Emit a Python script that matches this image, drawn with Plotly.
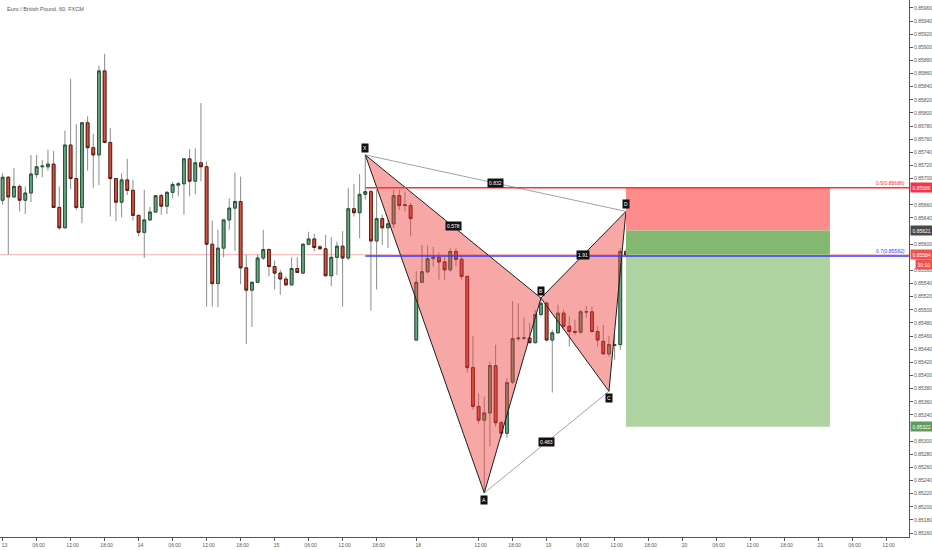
import plotly.graph_objects as go

title = "Euro / British Pound, 60, FXCM"

# EURGBP 1h candles, bar index 0 = 13th 00:00
opens = [0.85667, 0.85702, 0.85672, 0.85688, 0.85667, 0.85678, 0.85706, 0.85718, 0.85718, 0.85722,
         0.85656, 0.85625, 0.85751, 0.85700, 0.85656, 0.85785, 0.85747, 0.85736, 0.85864, 0.85755,
         0.85700, 0.85664, 0.85698, 0.85682, 0.85644, 0.85618, 0.85637, 0.85649, 0.85674, 0.85658,
         0.85679, 0.85690, 0.85692, 0.85730, 0.85696, 0.85724, 0.85718, 0.85600, 0.85540, 0.85594,
         0.85637, 0.85655, 0.85665, 0.85564, 0.85530, 0.85542, 0.85579, 0.85592, 0.85566, 0.85556,
         0.85547, 0.85538, 0.85563, 0.85556, 0.85600, 0.85608, 0.85596, 0.85593, 0.85552, 0.85580,
         0.85597, 0.85579, 0.85654, 0.85648, 0.85676, 0.85680, 0.85605, 0.85639, 0.85625, 0.85631,
         0.85674, 0.85660, 0.85659, 0.85454, 0.85542, 0.85558, 0.85578, 0.85580, 0.85573, 0.85561,
         0.85589, 0.85577, 0.85551, 0.85412, 0.85353, 0.85332, 0.85343, 0.85415, 0.85328, 0.85312,
         0.85390, 0.85456, 0.85457, 0.85457, 0.85450, 0.85493, 0.85510, 0.85454, 0.85465, 0.85495,
         0.85475, 0.85467, 0.85466, 0.85497, 0.85497, 0.85467, 0.85452, 0.85433, 0.85446, 0.85447,
         0.85589]
highs = [0.85708, 0.85704, 0.85716, 0.85691, 0.85688, 0.85736, 0.85736, 0.85728, 0.85744, 0.85742,
         0.85688, 0.85773, 0.85852, 0.85783, 0.85786, 0.85795, 0.85768, 0.85872, 0.85890, 0.85777,
         0.85700, 0.85708, 0.85730, 0.85698, 0.85644, 0.85683, 0.85657, 0.85675, 0.85677, 0.85681,
         0.85695, 0.85695, 0.85731, 0.85745, 0.85746, 0.85815, 0.85726, 0.85636, 0.85622, 0.85638,
         0.85670, 0.85709, 0.85703, 0.85584, 0.85543, 0.85585, 0.85622, 0.85593, 0.85575, 0.85561,
         0.85551, 0.85580, 0.85580, 0.85601, 0.85619, 0.85616, 0.85599, 0.85614, 0.85611, 0.85604,
         0.85620, 0.85686, 0.85692, 0.85707, 0.85736, 0.85683, 0.85683, 0.85645, 0.85637, 0.85683,
         0.85683, 0.85680, 0.85663, 0.85559, 0.85599, 0.85598, 0.85596, 0.85587, 0.85581, 0.85594,
         0.85594, 0.85581, 0.85552, 0.85460, 0.85373, 0.85368, 0.85421, 0.85447, 0.85331, 0.85396,
         0.85513, 0.85510, 0.85488, 0.85480, 0.85500, 0.85518, 0.85513, 0.85470, 0.85508, 0.85500,
         0.85490, 0.85485, 0.85500, 0.85506, 0.85505, 0.85475, 0.85477, 0.85460, 0.85465, 0.85594,
         0.85592]
lows = [0.85660, 0.85584, 0.85671, 0.85650, 0.85646, 0.85664, 0.85701, 0.85702, 0.85712, 0.85655,
        0.85622, 0.85624, 0.85684, 0.85652, 0.85632, 0.85712, 0.85686, 0.85690, 0.85754, 0.85642,
        0.85635, 0.85641, 0.85675, 0.85636, 0.85612, 0.85579, 0.85636, 0.85648, 0.85645, 0.85646,
        0.85670, 0.85673, 0.85645, 0.85673, 0.85676, 0.85696, 0.85505, 0.85505, 0.85504, 0.85580,
        0.85622, 0.85590, 0.85539, 0.85448, 0.85474, 0.85541, 0.85576, 0.85551, 0.85531, 0.85523,
        0.85537, 0.85537, 0.85556, 0.85555, 0.85600, 0.85589, 0.85592, 0.85551, 0.85536, 0.85553,
        0.85505, 0.85576, 0.85642, 0.85609, 0.85668, 0.85499, 0.85531, 0.85599, 0.85594, 0.85625,
        0.85652, 0.85650, 0.85612, 0.85453, 0.85541, 0.85556, 0.85566, 0.85546, 0.85546, 0.85558,
        0.85566, 0.85546, 0.85404, 0.85348, 0.85327, 0.85221, 0.85292, 0.85322, 0.85305, 0.85305,
        0.85387, 0.85452, 0.85454, 0.85449, 0.85449, 0.85490, 0.85452, 0.85374, 0.85464, 0.85472,
        0.85444, 0.85462, 0.85464, 0.85488, 0.85465, 0.85444, 0.85432, 0.85429, 0.85424, 0.85439,
        0.85580]
closes = [0.85702, 0.85672, 0.85688, 0.85667, 0.85678, 0.85707, 0.85718, 0.85719, 0.85722, 0.85656,
          0.85625, 0.85751, 0.85700, 0.85656, 0.85785, 0.85747, 0.85736, 0.85864, 0.85755, 0.85700,
          0.85664, 0.85698, 0.85682, 0.85644, 0.85618, 0.85637, 0.85649, 0.85674, 0.85658, 0.85679,
          0.85691, 0.85692, 0.85730, 0.85696, 0.85724, 0.85718, 0.85600, 0.85540, 0.85594, 0.85637,
          0.85655, 0.85665, 0.85564, 0.85530, 0.85542, 0.85579, 0.85592, 0.85566, 0.85556, 0.85547,
          0.85538, 0.85563, 0.85557, 0.85600, 0.85608, 0.85595, 0.85593, 0.85552, 0.85580, 0.85597,
          0.85579, 0.85654, 0.85648, 0.85676, 0.85680, 0.85605, 0.85639, 0.85625, 0.85631, 0.85674,
          0.85659, 0.85659, 0.85639, 0.85542, 0.85558, 0.85578, 0.85580, 0.85573, 0.85561, 0.85589,
          0.85577, 0.85551, 0.85412, 0.85353, 0.85332, 0.85343, 0.85415, 0.85328, 0.85312, 0.85389,
          0.85456, 0.85457, 0.85457, 0.85450, 0.85493, 0.85510, 0.85454, 0.85465, 0.85495, 0.85475,
          0.85467, 0.85466, 0.85497, 0.85497, 0.85467, 0.85454, 0.85433, 0.85447, 0.85447, 0.85589,
          0.85584]
bars = list(range(len(opens)))

# time axis labels (weekend gap between 15th and 18th)
tick_bars = [0, 6, 12, 18, 24, 30, 36, 42, 48, 54, 60, 66, 73, 84, 90, 96,
             102, 108, 114, 120, 126, 132, 138, 144, 150, 156]
tick_labels = ["13", "06:00", "12:00", "18:00", "14", "06:00", "12:00", "18:00",
               "15", "06:00", "12:00", "18:00", "18", "12:00", "18:00", "19",
               "06:00", "12:00", "18:00", "20", "06:00", "12:00", "18:00", "21",
               "06:00", "12:00"]

# XABCD pattern
point_names = ["X", "A", "B", "C", "D"]
point_bars = [64, 85, 95, 107, 110]
point_prices = [0.85736, 0.85221, 0.85518, 0.85376, 0.85650]
ratio_texts = ["0.578", "0.483", "1.91", "0.832"]   # XB, AC, BD, XD

# short position + levels
stop_price = 0.85686
entry_price = 0.85621
last_price = 0.85584
target_price = 0.85322
position_bars = [110, 146]
level_names = ["0.5", "0.7"]
level_prices = [0.85686, 0.85582]
level_colors = ["#ff3030", "#2f3cff"]

x_range = [-0.46, 159.95]
y_range = [0.85154, 0.85972]
font_family = "Liberation Sans, Arial, sans-serif"
small = 5

# price scale ticks, leaving out the ones hidden behind the price tags
tags = [stop_price, entry_price, last_price, target_price]
price_ticks = [round(0.8516 + 0.0002 * k, 5) for k in range(41)]
price_ticks = [p for p in price_ticks if all(abs(p - t) > 0.00007 for t in tags)]

fig = go.Figure()

# wicks (grey) then bodies with dark borders
fig.add_trace(go.Candlestick(
    x=bars, open=opens, high=highs, low=lows, close=closes,
    increasing=dict(line=dict(color="#8c8c8c", width=1), fillcolor="#6ba583"),
    decreasing=dict(line=dict(color="#8c8c8c", width=1), fillcolor="#d75442"),
    whiskerwidth=0, hoverinfo="skip", showlegend=False,
))
fig.add_trace(go.Candlestick(
    x=bars, open=opens, close=closes,
    high=[max(o, c) for o, c in zip(opens, closes)],
    low=[min(o, c) for o, c in zip(opens, closes)],
    increasing=dict(line=dict(color="#225437", width=1), fillcolor="#6ba583"),
    decreasing=dict(line=dict(color="#5b1a13", width=1), fillcolor="#d75442"),
    whiskerwidth=0, hoverinfo="skip", showlegend=False,
))

# pattern triangles XAB and BCD
for idx in ([0, 1, 2, 0], [2, 3, 4, 2]):
    fig.add_trace(go.Scatter(
        x=[point_bars[k] for k in idx], y=[point_prices[k] for k in idx],
        mode="lines", fill="toself", fillcolor="rgba(240,60,60,0.45)",
        line=dict(color="#1e1e1e", width=1), hoverinfo="skip", showlegend=False,
    ))

# thin ratio lines A-C and X-D
for a, b in ((1, 3), (0, 4)):
    fig.add_trace(go.Scatter(
        x=[point_bars[a], point_bars[b]], y=[point_prices[a], point_prices[b]],
        mode="lines", line=dict(color="#8a8a8a", width=0.8),
        hoverinfo="skip", showlegend=False,
    ))

shapes = []
# last price line across the chart
shapes.append(dict(type="line", xref="x", yref="y", x0=x_range[0], x1=x_range[1],
                   y0=last_price, y1=last_price,
                   line=dict(color="rgba(239,83,80,0.45)", width=1), layer="below"))
# position tool boxes
shapes.append(dict(type="rect", x0=position_bars[0], x1=position_bars[1], y0=entry_price, y1=stop_price,
                   fillcolor="#ff8c8c", line=dict(width=0), layer="above"))
shapes.append(dict(type="rect", x0=position_bars[0], x1=position_bars[1], y0=last_price, y1=entry_price,
                   fillcolor="#84b770", line=dict(width=0), layer="above"))
shapes.append(dict(type="rect", x0=position_bars[0], x1=position_bars[1], y0=target_price, y1=last_price,
                   fillcolor="#aed3a0", line=dict(width=0), layer="above"))
# horizontal levels starting at X
for price, color in zip(level_prices, level_colors):
    shapes.append(dict(type="line", x0=point_bars[0], x1=x_range[1], y0=price, y1=price,
                       line=dict(color=color, width=1.5), layer="above"))

annotations = []
# title
annotations.append(dict(xref="paper", yref="paper", x=0.005, y=0.993, xanchor="left", yanchor="top",
                        text=title, showarrow=False,
                        font=dict(size=5.5, color="#555555", family=font_family)))

# point labels
for name, bx, price in zip(point_names, point_bars, point_prices):
    up = name in ("X", "B", "D")
    annotations.append(dict(x=bx, y=price, text=name, showarrow=False,
                            yshift=7 if up else -7, bgcolor="#111111", borderpad=1,
                            font=dict(size=small, color="white", family=font_family)))

# ratio labels at midpoints
for (a, b), txt in zip(((0, 2), (1, 3), (2, 4), (0, 4)), ratio_texts):
    annotations.append(dict(x=(point_bars[a] + point_bars[b]) / 2,
                            y=(point_prices[a] + point_prices[b]) / 2,
                            text=txt, showarrow=False, bgcolor="#111111", borderpad=1,
                            font=dict(size=small, color="white", family=font_family)))

# level captions
for name, price, color in zip(level_names, level_prices, level_colors):
    annotations.append(dict(xref="paper", x=0.998, y=price, xanchor="right", yanchor="bottom",
                            text=f"{name}({price:.5f})", showarrow=False,
                            font=dict(size=small, color=color, family=font_family)))

# price tags on the axis
for price, color in ((stop_price, "#f23645"), (entry_price, "#4a4a4a"),
                     (last_price, "#ef5350"), (target_price, "#5d9e5a")):
    annotations.append(dict(xref="paper", x=1, y=price, xanchor="left", xshift=1,
                            text=f"{price:.5f}", showarrow=False, bgcolor=color, borderpad=1.5,
                            font=dict(size=small, color="white", family=font_family)))
annotations.append(dict(xref="paper", x=1, y=last_price, xanchor="left", xshift=6, yshift=-10,
                        text="30:10", showarrow=False, bgcolor="#ef5350", borderpad=1.5,
                        font=dict(size=small, color="white", family=font_family)))

fig.update_layout(
    width=932, height=550,
    margin=dict(l=0, r=23, t=0, b=13),
    paper_bgcolor="white", plot_bgcolor="white",
    showlegend=False,
    shapes=shapes, annotations=annotations,
    font=dict(family=font_family, size=small, color="#555555"),
    xaxis=dict(range=x_range, tickvals=tick_bars, ticktext=tick_labels, automargin=False,
               showgrid=False, zeroline=False, showline=True, linecolor="#555555", linewidth=1,
               ticks="outside", ticklen=3, tickcolor="#555555", ticklabeloverflow="allow",
               ticklabelshift=2,
               tickfont=dict(size=small, color="#555555"), rangeslider=dict(visible=False)),
    yaxis=dict(range=y_range, side="right", tickvals=price_ticks, tickformat=".5f", automargin=False,
               showgrid=False, zeroline=False, showline=True, linecolor="#555555", linewidth=1,
               ticks="outside", ticklen=3, tickcolor="#555555", ticklabeloverflow="allow",
               tickfont=dict(size=small, color="#555555")),
)

# page body has a default 8px margin, drop it so the chart sits at the window corner
fig.write_html("out.html", config={"displayModeBar": False},
               post_script="document.body.style.margin='0';")
